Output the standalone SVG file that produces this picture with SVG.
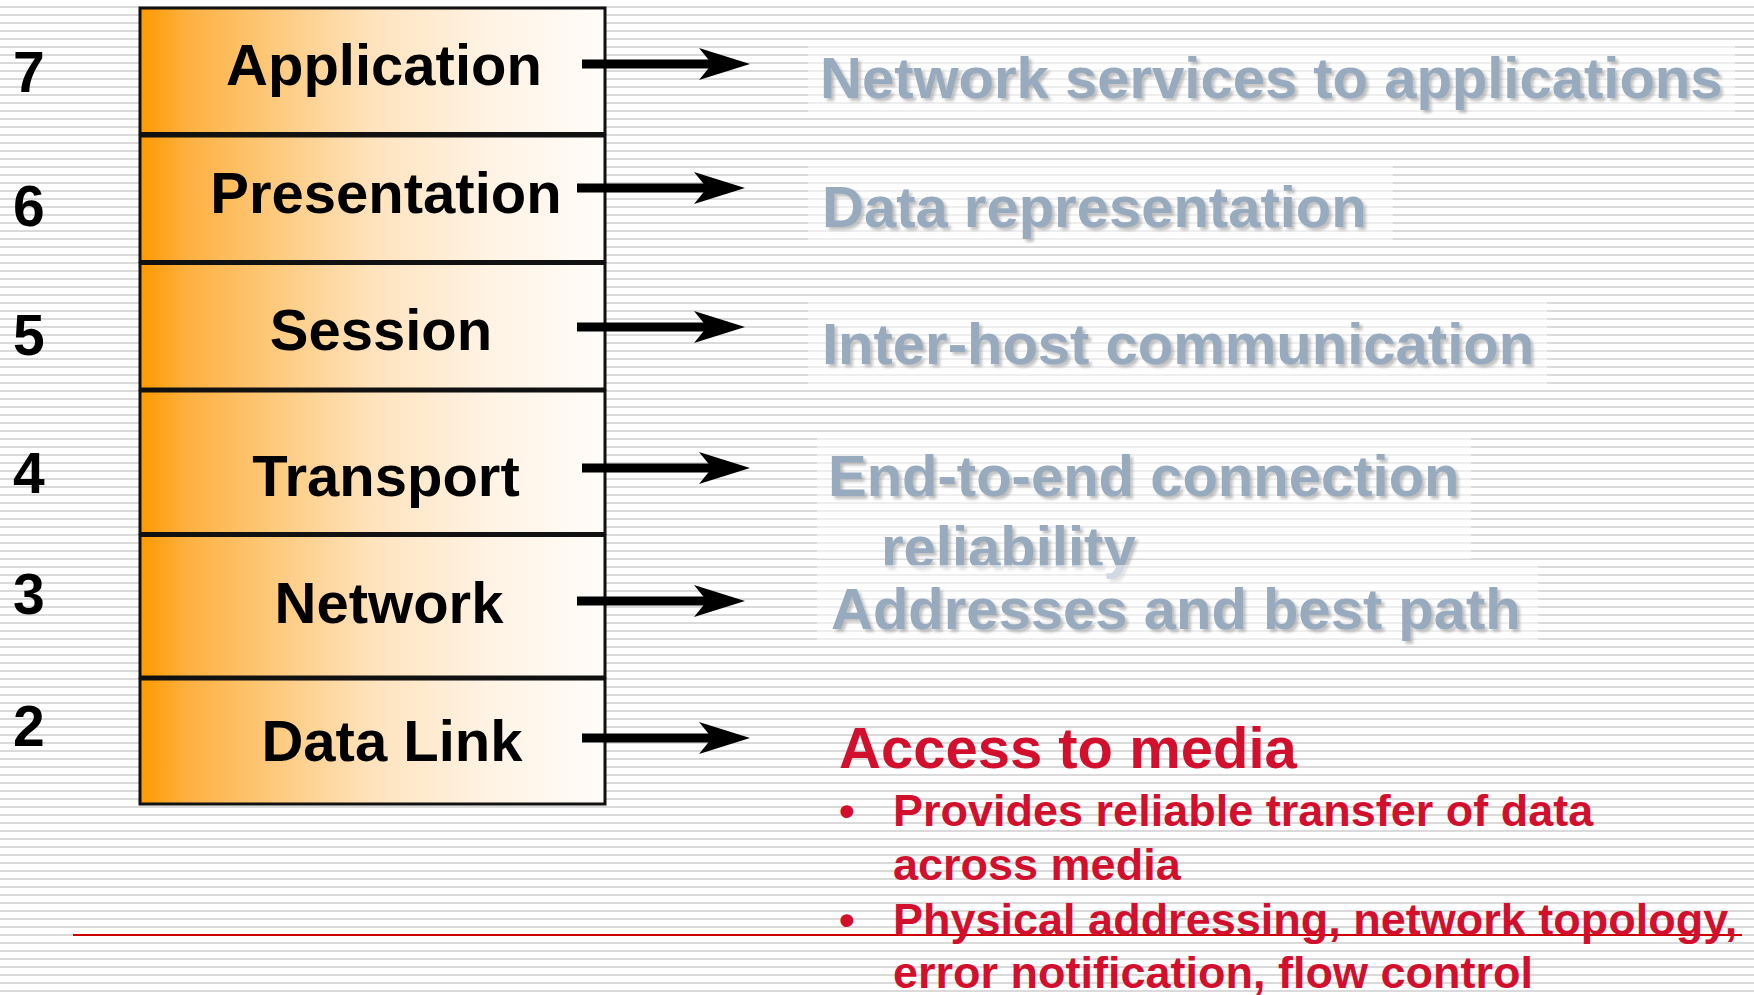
<svg xmlns="http://www.w3.org/2000/svg" width="1754" height="995" viewBox="0 0 1754 995">
<defs>
  <pattern id="stripes" patternUnits="userSpaceOnUse" width="8" height="8">
    <rect x="0" y="0" width="8" height="8" fill="#ffffff"/>
    <rect x="0" y="6" width="8" height="2" fill="#dadada"/>
  </pattern>
  <linearGradient id="orange" x1="0" y1="0" x2="1" y2="0">
    <stop offset="0" stop-color="#FF9900"/>
    <stop offset="0.1" stop-color="#FDB040"/>
    <stop offset="0.3" stop-color="#FDCB80"/>
    <stop offset="0.5" stop-color="#FEE3BD"/>
    <stop offset="0.75" stop-color="#FFF3E4"/>
    <stop offset="1" stop-color="#FFFCF9"/>
  </linearGradient>
  <filter id="shadow" x="-5%" y="-20%" width="110%" height="140%">
    <feDropShadow dx="3" dy="3" stdDeviation="1.5" flood-color="#9a9a9a" flood-opacity="0.6"/>
  </filter>
  <marker id="stealth" markerUnits="userSpaceOnUse" markerWidth="60" markerHeight="40" refX="26" refY="16" orient="auto">
    <path d="M0,0 L51,16 L0,32 L13,16 Z" fill="#000000"/>
  </marker>
  <style>
    .layer { fill: url(#orange); stroke: #111111; stroke-width: 3; }
    .label { font-family: "Liberation Sans", Arial, sans-serif; font-weight: bold; font-size: 58px; fill: #000000; text-anchor: middle; }
    .num { font-family: "Liberation Sans", Arial, sans-serif; font-weight: bold; font-size: 57px; fill: #000000; }
    .desc { font-family: "Liberation Sans", Arial, sans-serif; font-weight: bold; font-size: 58px; fill: #98AABE; filter: url(#shadow); }
    .descbg { fill: #ffffff; fill-opacity: 0.55; }
    .red { font-family: "Liberation Sans", Arial, sans-serif; font-weight: bold; fill: #D2102E; }
    .arrow { stroke: #000000; stroke-width: 9; fill: none; marker-end: url(#stealth); }
  </style>
</defs>

<rect x="0" y="0" width="1754" height="995" fill="url(#stripes)"/>

<g id="numbers">
  <text class="num" x="13" y="92">7</text>
  <text class="num" x="13" y="226">6</text>
  <text class="num" x="13" y="355">5</text>
  <text class="num" x="13" y="493">4</text>
  <text class="num" x="13" y="614">3</text>
  <text class="num" x="13" y="746">2</text>
</g>

<g id="layer7">
  <rect class="layer" x="140" y="8" width="465" height="125.5"/>
  <text class="label" x="384" y="85">Application</text>
</g>
<g id="layer6">
  <rect class="layer" x="140" y="136" width="465" height="125.5"/>
  <text class="label" x="386" y="213">Presentation</text>
</g>
<g id="layer5">
  <rect class="layer" x="140" y="263.5" width="465" height="125.5"/>
  <text class="label" x="381" y="350">Session</text>
</g>
<g id="layer4">
  <rect class="layer" x="140" y="391" width="465" height="142.5"/>
  <text class="label" x="386" y="496">Transport</text>
</g>
<g id="layer3">
  <rect class="layer" x="140" y="535.5" width="465" height="141.5"/>
  <text class="label" x="389" y="623">Network</text>
</g>
<g id="layer2">
  <rect class="layer" x="140" y="679" width="465" height="125"/>
  <text class="label" x="392" y="761">Data Link</text>
</g>

<g id="connectors">
  <line class="arrow" x1="582" y1="64" x2="725" y2="64"/>
  <line class="arrow" x1="577" y1="188" x2="720" y2="188"/>
  <line class="arrow" x1="577" y1="327" x2="720" y2="327"/>
  <line class="arrow" x1="582" y1="468" x2="725" y2="468"/>
  <line class="arrow" x1="577" y1="601" x2="720" y2="601"/>
  <line class="arrow" x1="582" y1="738" x2="725" y2="738"/>
</g>

<g id="desc7">
  <rect class="descbg" x="808" y="45" width="927" height="73"/>
  <text class="desc" x="820" y="98">Network services to applications</text>
</g>
<g id="desc6">
  <rect class="descbg" x="808" y="160" width="585" height="83"/>
  <text class="desc" x="822" y="227">Data representation</text>
</g>
<g id="desc5">
  <rect class="descbg" x="808" y="302" width="739" height="84"/>
  <text class="desc" x="822" y="364">Inter-host communication</text>
</g>
<g id="desc4">
  <rect class="descbg" x="817" y="436" width="654" height="123"/>
  <text class="desc" x="828" y="496">End-to-end connection</text>
  <text class="desc" x="881" y="567">reliability</text>
</g>
<g id="desc3">
  <rect class="descbg" x="817" y="565" width="721" height="75"/>
  <text class="desc" x="831" y="629">Addresses and best path</text>
</g>

<line x1="73" y1="935" x2="1742" y2="935" stroke="#CC0000" stroke-width="2"/>

<g id="desc2">
  <text class="red" x="839" y="768" font-size="58">Access to media</text>
  <text class="red" x="839" y="826" font-size="45">•</text>
  <text class="red" x="893" y="826" font-size="45">Provides reliable transfer of data</text>
  <text class="red" x="893" y="880" font-size="45">across media</text>
  <text class="red" x="839" y="935" font-size="45">•</text>
  <text class="red" x="893" y="935" font-size="45">Physical addressing, network topology,</text>
  <text class="red" x="893" y="988" font-size="45">error notification, flow control</text>
</g>
</svg>
